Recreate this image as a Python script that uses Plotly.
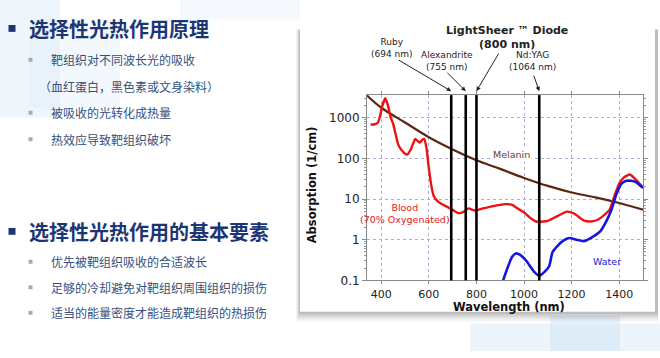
import plotly.graph_objects as go

W, H = 660, 358
def px(x): return x / W
def py(y): return 1 - y / H

# ---------------- data ----------------
melanin_wl = [340, 400, 500, 600, 700, 800, 900, 1000, 1100, 1200, 1300, 1400, 1500]
melanin = [3500, 1750, 760, 330, 165, 90, 55, 33, 21, 14.5, 11, 8, 5.5]

blood_wl = [355, 370, 385, 395, 405, 417, 428, 440, 450, 460, 471, 485, 500, 510, 525, 543, 555,
            562, 572, 580, 590, 598, 610, 620, 635, 650, 675, 700, 725, 745, 767, 780, 795, 820,
            860, 900, 920, 950, 980, 1000, 1030, 1050, 1080, 1100, 1140, 1180, 1210, 1250,
            1280, 1310, 1340, 1360, 1380, 1400, 1420, 1445, 1470, 1500]
blood = [680, 680, 750, 1100, 2000, 3000, 2000, 1000, 700, 400, 220, 160, 130, 125, 170, 300, 260,
         245, 285, 300, 180, 70, 22, 12, 9, 7.8, 6.5, 5.4, 4.5, 4.8, 5.9, 5.5, 5.2, 5.7,
         6.5, 7.2, 7.5, 7.2, 5.5, 4.7, 3.3, 2.8, 2.8, 2.9, 3.8, 4.9, 4.4, 3.0,
         2.8, 3.1, 4.2, 5.5, 12, 24, 34, 40, 30, 19]

water_wl = [912, 930, 950, 965, 985, 1010, 1040, 1064, 1085, 1105, 1120, 1140, 1165, 1190,
            1220, 1250, 1280, 1320, 1345, 1365, 1390, 1410, 1430, 1450, 1470, 1490, 1500]
water = [0.1, 0.2, 0.38, 0.46, 0.42, 0.3, 0.17, 0.13, 0.16, 0.22, 0.5, 0.7, 0.95, 1.1,
         1.0, 0.92, 1.1, 1.6, 2.8, 5, 14, 24, 28, 28, 26, 21, 19]

laser_wl = [694, 755, 800, 1064]
laser_names = ["Ruby<br>(694 nm)", "Alexandrite<br>(755 nm)",
               "<b>LightSheer ™ Diode<br>(800 nm)</b>", "Nd:YAG<br>(1064 nm)"]

x_ticks = [400, 600, 800, 1000, 1200, 1400]
y_ticks = [0.1, 1, 10, 100, 1000]
y_ticklabels = ["0.1", "1", "10", "100", "1000"]

title1 = "选择性光热作用原理"
bullets1 = ["靶组织对不同波长光的吸收", "（血红蛋白，黑色素或文身染料）", "被吸收的光转化成热量", "热效应导致靶组织破坏"]
title2 = "选择性光热作用的基本要素"
bullets2 = ["优先被靶组织吸收的合适波长", "足够的冷却避免对靶组织周围组织的损伤", "适当的能量密度才能造成靶组织的热损伤"]

# ---------------- figure ----------------
fig = go.Figure()
fig.add_trace(go.Scatter(x=melanin_wl, y=melanin, mode="lines",
                         line=dict(color="#5A2810", width=2.2, shape="spline"), showlegend=False))
fig.add_trace(go.Scatter(x=blood_wl, y=blood, mode="lines",
                         line=dict(color="#EE1111", width=2.4, shape="spline", smoothing=0.5), showlegend=False))
fig.add_trace(go.Scatter(x=water_wl, y=water, mode="lines",
                         line=dict(color="#1515E0", width=2.6, shape="spline", smoothing=0.6), showlegend=False))

chart_font = "DejaVu Sans"
cjk = "Noto Sans CJK SC"
shapes = []
annotations = []

# slide decoration
for (x0, y0, x1, y1, c) in [(0, 0, 60, 120, "rgba(205,228,245,0.35)"), (30, 20, 120, 110, "rgba(215,232,246,0.30)"),
                            (180, 0, 300, 20, "rgba(225,237,248,0.35)"),
                            (470, 330, 660, 358, "rgba(215,232,246,0.45)"), (550, 322, 620, 358, "rgba(200,222,242,0.40)")]:
    shapes.append(dict(type="rect", xref="paper", yref="paper", x0=px(x0), x1=px(x1), y0=py(y1), y1=py(y0),
                       fillcolor=c, line=dict(width=0), layer="below"))

# panel shadow
for i, a in enumerate([0.06, 0.08, 0.10, 0.14]):
    d = 10 - 2.5 * i
    shapes.append(dict(type="rect", xref="paper", yref="paper", x0=px(300 - d * 0.4), x1=px(658),
                       y0=py(318 + d), y1=py(30), fillcolor=f"rgba(60,60,60,{a})", line=dict(width=0), layer="below"))
# panel
shapes.append(dict(type="rect", xref="paper", yref="paper", x0=px(300), x1=px(655), y0=py(318), y1=py(25),
                   fillcolor="white", line=dict(width=0), layer="below"))

# laser lines
for wl in laser_wl:
    shapes.append(dict(type="line", xref="x", yref="y domain", x0=wl, x1=wl, y0=0, y1=1,
                       line=dict(color="black", width=2.6), layer="above"))

# bullets on slide
def sq(cx, cy, s, color):
    shapes.append(dict(type="rect", xref="paper", yref="paper", x0=px(cx - s / 2), x1=px(cx + s / 2),
                       y0=py(cy + s / 2), y1=py(cy - s / 2), fillcolor=color, line=dict(width=0)))

title_color = "#1C3674"
text_color = "#34507F"
sq(12, 29, 7, title_color)
annotations.append(dict(text=f"<b>{title1}</b>", x=px(27), y=py(29), xref="paper", yref="paper",
                        xanchor="left", yanchor="middle", showarrow=False, font=dict(family=cjk, size=20, color=title_color)))
ys1 = [61, 88, 115, 142]
for t, y in zip(bullets1, ys1):
    if t.startswith("（"):
        annotations.append(dict(text=t, x=px(37), y=py(y), xref="paper", yref="paper", xanchor="left", yanchor="middle",
                                showarrow=False, font=dict(family=cjk, size=12, color=text_color)))
    else:
        sq(30.5, y, 4, "#AAAAAA")
        annotations.append(dict(text=t, x=px(49), y=py(y), xref="paper", yref="paper", xanchor="left", yanchor="middle",
                                showarrow=False, font=dict(family=cjk, size=12, color=text_color)))
sq(12, 236, 7, title_color)
annotations.append(dict(text=f"<b>{title2}</b>", x=px(27), y=py(236), xref="paper", yref="paper",
                        xanchor="left", yanchor="middle", showarrow=False, font=dict(family=cjk, size=20, color=title_color)))
for t, y in zip(bullets2, [267, 293, 319]):
    sq(30.5, y, 4, "#AAAAAA")
    annotations.append(dict(text=t, x=px(49), y=py(y), xref="paper", yref="paper", xanchor="left", yanchor="middle",
                            showarrow=False, font=dict(family=cjk, size=12, color=text_color)))

# laser labels and arrows
label_pos = [(392, 49, 9), (447, 62, 9), (507, 38, 11), (532, 62, 9)]
arrow_tail = [(-54, -32), (-20, -20), (23, -39), (-6, -17)]
for wl, name, (lx, ly, fs), (ax, ay) in zip(laser_wl, laser_names, label_pos, arrow_tail):
    annotations.append(dict(text=name, x=px(lx), y=py(ly), xref="paper", yref="paper", showarrow=False,
                            xanchor="center", yanchor="middle", font=dict(family=chart_font, size=fs, color="#222"),
                            align="center"))
    annotations.append(dict(text="", x=wl, y=py(93), xref="x", yref="paper", showarrow=True,
                            ax=ax, ay=ay, arrowhead=2, arrowsize=0.9, arrowwidth=1, arrowcolor="#222"))

# curve labels
annotations.append(dict(text="Melanin", x=px(511), y=py(158), xref="paper", yref="paper", showarrow=False,
                        font=dict(family=chart_font, size=9.5, color="#6B3A20"), bgcolor="white",
                        xanchor="center", yanchor="middle"))
annotations.append(dict(text="Blood<br>(70% Oxygenated)", x=px(405), y=py(218), xref="paper", yref="paper",
                        showarrow=False, font=dict(family=chart_font, size=9.5, color="#E02020"),
                        xanchor="center", yanchor="middle", align="center"))
annotations.append(dict(text="Water", x=px(607), y=py(267), xref="paper", yref="paper", showarrow=False,
                        font=dict(family=chart_font, size=9.5, color="#2020D0"), xanchor="center", yanchor="middle"))

# axis titles
annotations.append(dict(text="<b>Wavelength (nm)</b>", x=px(509), y=py(313), xref="paper", yref="paper",
                        showarrow=False, font=dict(family=chart_font, size=11.5, color="#111"),
                        xanchor="center", yanchor="middle"))
annotations.append(dict(text="<b>Absorption (1/cm)</b>", x=px(312), y=py(189), xref="paper", yref="paper",
                        showarrow=False, textangle=-90, font=dict(family=chart_font, size=11.5, color="#111"),
                        xanchor="center", yanchor="middle"))

grid_color = "#A8ACE0"
fig.update_layout(
    width=W, height=H, autosize=False, margin=dict(l=0, r=0, t=0, b=0),
    paper_bgcolor="white", plot_bgcolor="white",
    shapes=shapes, annotations=annotations,
    xaxis=dict(domain=[px(367), px(643)], range=[340, 1500], tickvals=x_ticks,
               showline=True, linecolor="#8A8A8A", linewidth=1, mirror="ticks", ticks="outside",
               ticklen=3, tickcolor="#8A8A8A", showgrid=True, gridcolor=grid_color, griddash="dot",
               gridwidth=1, zeroline=False, tickfont=dict(family=chart_font, size=11, color="#222")),
    yaxis=dict(domain=[py(286), py(97)], type="log", range=[-1, 3.554], tickvals=y_ticks,
               ticktext=y_ticklabels, showline=True, linecolor="#8A8A8A", linewidth=1, mirror="ticks",
               ticks="outside", ticklen=4, tickcolor="#8A8A8A", showgrid=True, gridcolor=grid_color,
               griddash="dot", gridwidth=1, zeroline=False,
               tickfont=dict(family=chart_font, size=12, color="#222"),
               minor=dict(ticks="outside", ticklen=2, tickcolor="#999", dtick="D1", showgrid=False)),
)

post = (
    "document.documentElement.style.cssText='margin:0;padding:0;overflow:hidden;height:358px;';"
    "document.body.style.cssText='margin:0;padding:0;overflow:hidden;height:358px;';"
)
fig.write_html("out.html", config={"displayModeBar": False, "responsive": False}, post_script=post)
